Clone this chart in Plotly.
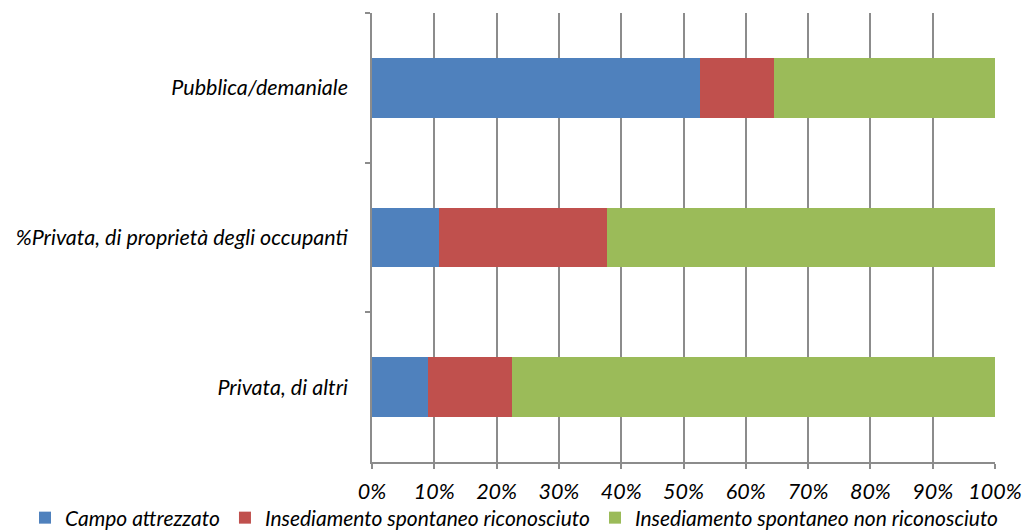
import plotly.graph_objects as go

# Tipologia di proprietà dell'area (righe) e ripartizione percentuale per tipo di insediamento
categories = ["Pubblica/demaniale", "%Privata, di proprietà degli occupanti", "Privata, di altri"]
campo_attrezzato = [52.6, 10.7, 9.0]
spontaneo_riconosciuto = [12.0, 27.1, 13.4]
spontaneo_non_riconosciuto = [35.4, 62.2, 77.6]

series = [
    ("Campo attrezzato", campo_attrezzato, "#4F81BD"),
    ("Insediamento spontaneo riconosciuto", spontaneo_riconosciuto, "#C0504D"),
    ("Insediamento spontaneo non riconosciuto", spontaneo_non_riconosciuto, "#9BBB59"),
]

tick_vals = [0, 10, 20, 30, 40, 50, 60, 70, 80, 90, 100]
tick_text = [f"{v}%" for v in tick_vals]

FONT = "Lato"
SIZE = 21.5

# plot area in pixels
L, R, T, B = 372, 29, 13, 70
PW, PH = 1024 - L - R, 532 - T - B

fig = go.Figure()
for name, vals, color in series:
    fig.add_trace(go.Bar(
        y=categories, x=vals, name=name, orientation="h",
        marker=dict(color=color, line=dict(width=0)),
    ))

fig.update_layout(
    barmode="stack",
    bargap=0.6,
    width=1024, height=532,
    margin=dict(l=L, r=R, t=T, b=B, autoexpand=False),
    paper_bgcolor="white", plot_bgcolor="white",
    font=dict(family=FONT, size=SIZE, color="#000000", style="italic"),
    showlegend=True,
    legend=dict(
        orientation="h", traceorder="normal",
        x=(25 - L) / PW, xanchor="left",
        y=-(518 - (T + PH)) / PH, yanchor="middle",
        font=dict(family=FONT, size=21, style="italic"),
        itemwidth=30, bgcolor="rgba(0,0,0,0)",
    ),
)

fig.update_xaxes(
    range=[0, 100], tickvals=tick_vals, ticktext=tick_text,
    showgrid=True, gridcolor="#8C8C8C", gridwidth=1.5,
    showline=True, linecolor="#8C8C8C", linewidth=1.5,
    ticks="outside", ticklen=5, tickcolor="#8C8C8C", tickwidth=1.5,
    ticklabelstandoff=4,
    tickfont=dict(family=FONT, size=SIZE, style="italic"),
    zeroline=False, fixedrange=True,
)
fig.update_yaxes(
    autorange="reversed",
    showline=True, linecolor="#8C8C8C", linewidth=1.5,
    ticks="outside", ticklen=5, tickcolor="#8C8C8C", tickwidth=1.5,
    tickson="boundaries", ticklabelstandoff=18,
    tickfont=dict(family=FONT, size=SIZE, style="italic"),
    showgrid=False, fixedrange=True,
)

fig.write_html("out.html")
